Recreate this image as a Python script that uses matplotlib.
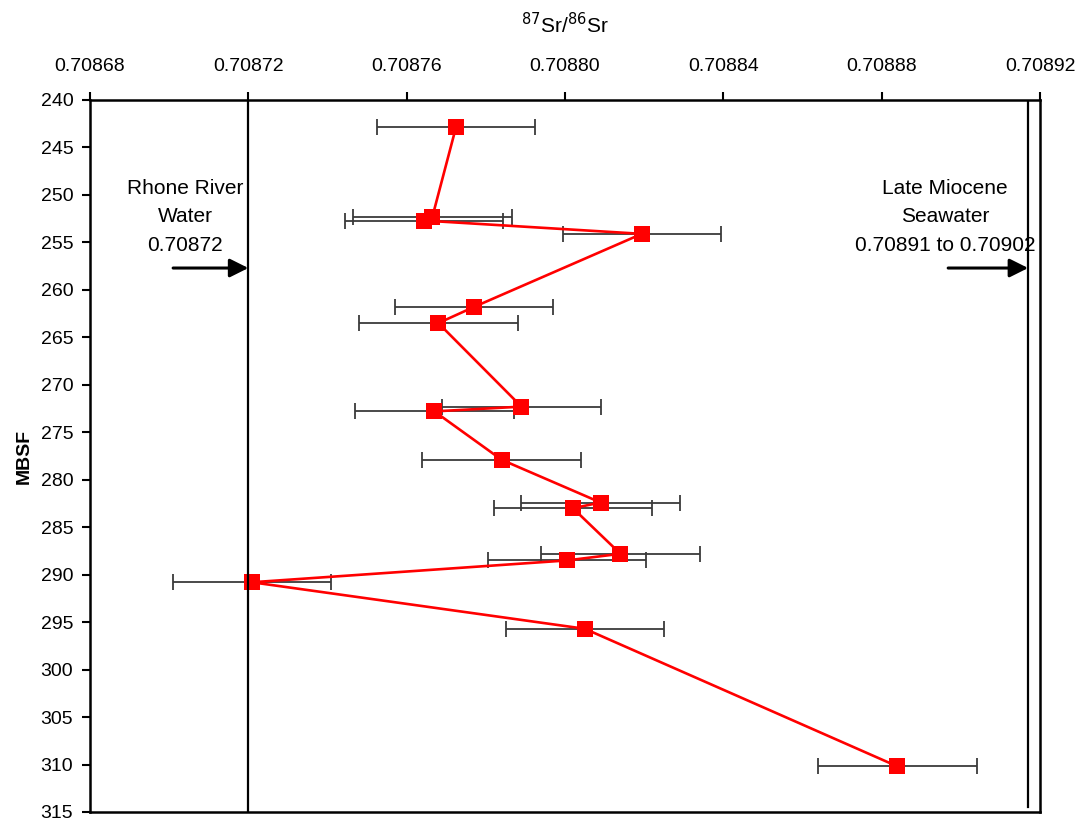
import matplotlib
matplotlib.use("Agg")
import matplotlib.pyplot as plt
import numpy as np

plt.rcParams['font.family'] = ['Liberation Sans', 'DejaVu Sans']

# Data: 87Sr/86Sr ratio vs depth (MBSF)
sr_ratio = [0.7087725, 0.7087665, 0.7087644, 0.7088194, 0.708777, 0.708768,
            0.708789, 0.708767, 0.708784, 0.708809, 0.708802, 0.708814,
            0.7088005, 0.7087209, 0.708805, 0.708884]
depth = [242.8, 252.3, 252.7, 254.1, 261.8, 263.5, 272.3, 272.8, 277.9,
         282.4, 283.0, 287.8, 288.5, 290.8, 295.7, 310.2]
sr_err = [0.00002] * len(sr_ratio)

rhone_value = 0.70872
seawater_line = 0.708917

x_ticks = [0.70868, 0.70872, 0.70876, 0.70880, 0.70884, 0.70888, 0.70892]
y_ticks = list(range(240, 316, 5))

fig = plt.figure(figsize=(10.8, 8.24), dpi=100)
ax = fig.add_axes([90/1080, 12/824, 950/1080, 712/824])

ax.errorbar(sr_ratio, depth, xerr=sr_err, fmt='none', ecolor='#3a3a3a',
            elinewidth=1.3, capsize=6, capthick=1.3, zorder=2)
ax.plot(sr_ratio, depth, color='#ff0000', lw=1.9, zorder=3)
ax.plot(sr_ratio, depth, ls='none', marker='s', ms=11, color='#ff0000',
        markeredgewidth=0, zorder=4)

ax.axvline(rhone_value, color='black', lw=1.6, zorder=5)
ax.axvline(seawater_line, ymin=0.007, color='black', lw=1.6, zorder=5)

ax.set_xlim(0.70868, 0.70892)
ax.set_ylim(315, 240)
ax.xaxis.tick_top()
ax.xaxis.set_label_position('top')
ax.set_xticks(x_ticks)
ax.set_xticklabels([f"{v:.5f}" for v in x_ticks])
ax.set_yticks(y_ticks)
ax.tick_params(axis='x', direction='out', length=6, width=1.5, labelsize=14, pad=12)
ax.tick_params(axis='y', direction='out', length=6, width=1.5, labelsize=14, pad=6)
for s in ax.spines.values():
    s.set_linewidth(1.8)

ax.set_xlabel(r'$^{87}$Sr/$^{86}$Sr', fontsize=15, labelpad=18)
ax.set_ylabel('MBSF', fontsize=14, fontweight='bold', labelpad=6)

ax.text(0.708704, 252.3, 'Rhone River\nWater\n0.70872', ha='center', va='center',
        fontsize=15, linespacing=1.62, multialignment='center')
ax.annotate('', xy=(0.70872, 257.7), xytext=(0.708701, 257.7),
            arrowprops=dict(arrowstyle='-|>', mutation_scale=28, lw=2.2,
                            color='black', shrinkA=0, shrinkB=0))

ax.text(0.708896, 252.3, 'Late Miocene\nSeawater\n0.70891 to 0.70902', ha='center',
        va='center', fontsize=15, linespacing=1.62, multialignment='center')
ax.annotate('', xy=(seawater_line, 257.7), xytext=(0.7088968, 257.7),
            arrowprops=dict(arrowstyle='-|>', mutation_scale=28, lw=2.2,
                            color='black', shrinkA=0, shrinkB=0))

fig.savefig('out.png', dpi=100)
